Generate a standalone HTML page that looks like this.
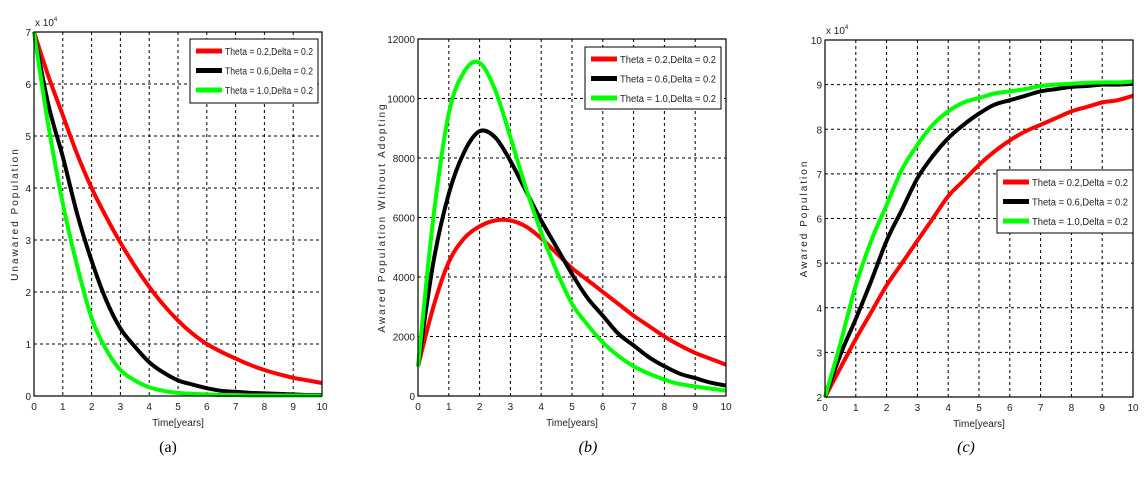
<!DOCTYPE html>
<html><head><meta charset="utf-8"><style>
body{margin:0;background:#fff;width:1147px;height:494px;overflow:hidden}
svg text{font-family:"Liberation Sans",sans-serif;font-size:10px;fill:#222}
.cap{font-family:"Liberation Serif",serif;font-size:16px;fill:#000}
</style></head><body>
<svg id="s" width="1147" height="494"></svg>
<script>
const times=[0,0.5,1,1.5,2,2.5,3,3.5,4,4.5,5,5.5,6,6.5,7,7.5,8,8.5,9,9.5,10];
const xTicks=[0,1,2,3,4,5,6,7,8,9,10];
const legendLabels=["Theta = 0.2,Delta = 0.2","Theta = 0.6,Delta = 0.2","Theta = 1.0,Delta = 0.2"];
const aRed=[7,6.15,5.4,4.65,4.0,3.45,2.95,2.5,2.1,1.75,1.45,1.2,1.0,0.85,0.72,0.6,0.5,0.42,0.35,0.3,0.25];
const aBlack=[7,5.6,4.6,3.5,2.6,1.85,1.3,0.95,0.65,0.45,0.3,0.22,0.15,0.1,0.08,0.06,0.05,0.04,0.03,0.02,0.02];
const aGreen=[7,5.2,3.7,2.5,1.5,0.9,0.5,0.3,0.17,0.1,0.06,0.04,0.03,0.02,0.02,0.01,0.01,0.01,0.01,0.01,0.01];
const aTicks=[0,1,2,3,4,5,6,7];
const bRed=[1000,3000,4500,5300,5700,5900,5900,5700,5300,4800,4300,3900,3500,3100,2700,2350,2000,1700,1450,1250,1050];
const bBlack=[1000,4500,6800,8200,8900,8700,7900,6900,5900,5000,4100,3300,2700,2100,1700,1300,1000,750,600,450,350];
const bGreen=[1000,6000,9500,10900,11200,10300,8700,7000,5500,4200,3100,2400,1800,1350,1000,750,550,400,320,250,180];
const bTicks=[0,2000,4000,6000,8000,10000,12000];
const cRed=[2,2.65,3.3,3.9,4.5,5.0,5.5,6.0,6.5,6.85,7.2,7.5,7.75,7.95,8.1,8.25,8.4,8.5,8.6,8.65,8.75];
const cBlack=[2,2.95,3.75,4.6,5.5,6.2,6.9,7.4,7.8,8.1,8.35,8.55,8.65,8.75,8.85,8.9,8.95,8.97,9.0,9.0,9.02];
const cGreen=[2,3.2,4.5,5.5,6.3,7.1,7.65,8.1,8.4,8.6,8.7,8.8,8.85,8.9,8.97,9.0,9.02,9.04,9.05,9.05,9.07];
const cTicks=[2,3,4,5,6,7,8,9,10];

const NS="http://www.w3.org/2000/svg",S=document.getElementById('s');
function mk(t,a,p){const e=document.createElementNS(NS,t);for(const k in a)e.setAttribute(k,a[k]);(p||S).appendChild(e);return e;}
const colors=["#ff0000","#000000","#00ff00"];
function smooth(pts){
  let d='M'+pts[0][0].toFixed(1)+','+pts[0][1].toFixed(1);
  for(let i=0;i<pts.length-1;i++){
    const p0=pts[Math.max(0,i-1)],p1=pts[i],p2=pts[i+1],p3=pts[Math.min(pts.length-1,i+2)];
    const c1=[p1[0]+(p2[0]-p0[0])/6,p1[1]+(p2[1]-p0[1])/6];
    const c2=[p2[0]-(p3[0]-p1[0])/6,p2[1]-(p3[1]-p1[1])/6];
    d+='C'+c1.map(v=>v.toFixed(1)).join(',')+' '+c2.map(v=>v.toFixed(1)).join(',')+' '+p2.map(v=>v.toFixed(1)).join(',');
  }
  return d;
}
function panel(id,L,R,T,B,ymin,ymax,ticks,series,ylab,exp,leg,capX,yOff){
  const g=mk('g',{});
  
  
  const X=v=>L+(v-0)/10*(R-L), Y=v=>B-(v-ymin)/(ymax-ymin)*(B-T);
  xTicks.forEach(t=>{
    if(t>0&&t<10){const l=mk('line',{x1:X(t),x2:X(t),y1:T,y2:B,stroke:'#000','stroke-width':1,'stroke-dasharray':'3,3'},g);}
    const tx=mk('text',{x:X(t),y:B+14,'text-anchor':'middle'},g);tx.textContent=t;
    
  });
  ticks.forEach(t=>{
    if(t>ymin&&t<ymax){const l=mk('line',{x1:L,x2:R,y1:Y(t),y2:Y(t),stroke:'#000','stroke-width':1,'stroke-dasharray':'3,3'},g);}
    const tx=mk('text',{x:L-3,y:Y(t)+4,'text-anchor':'end'},g);tx.textContent=t;
    
  });
  series.forEach((s,i)=>{
    const pts=s.map((v,j)=>[X(times[j]),Y(v)]);
    const p=mk('path',{d:smooth(pts),fill:'none',stroke:colors[i],'stroke-width':4,'stroke-linejoin':'round'},g);
    
    
  });
  const fr=mk('rect',{x:L,y:T,width:R-L,height:B-T,fill:'none',stroke:'#000','stroke-width':1.2},g);
  
  if(exp){const e=mk('text',{x:L+1,y:T-6},g);e.innerHTML='x 10<tspan dy="-5" font-size="6">4</tspan>';
    }
  const yl=mk('text',{transform:`translate(${L-yOff},${(T+B)/2}) rotate(-90)`,'text-anchor':'middle','letter-spacing':'2'},g);
  yl.textContent=ylab;
  const xl=mk('text',{x:(L+R)/2,y:B+30,'text-anchor':'middle'},g);xl.textContent='Time[years]';
  
  const lg=mk('g',{},g);
  mk('rect',{x:leg[0],y:leg[1],width:leg[2]-leg[0],height:leg[3]-leg[1],fill:'#fff',stroke:'#000','stroke-width':1},lg);
  legendLabels.forEach((t,i)=>{
    const yy=leg[1]+12+i*19.5;
    const ln=mk('line',{x1:leg[0]+6,x2:leg[0]+32,y1:yy,y2:yy,stroke:colors[i],'stroke-width':5},lg);
    
    const tx=mk('text',{x:leg[0]+35,y:yy+4,textLength:leg[2]-leg[0]-40,lengthAdjust:'spacingAndGlyphs'},lg);tx.textContent=t;
    
  });
  const c=mk('text',{x:capX,y:452,'text-anchor':'middle',class:'cap'},g);c.textContent='('+id+')';
  if(id!=='a')c.setAttribute('font-style','italic');
  
}
panel('a',34,322,32,396,0,7,aTicks,[aRed,aBlack,aGreen],'Unawared Population',true,[190,39,318,103],168,16);
panel('b',418,726,39,396,0,12000,bTicks,[bRed,bBlack,bGreen],'Awared Population Without Adopting',false,[585,47,721,109],588,33);
panel('c',825,1133,40,397,2,10,cTicks,[cRed,cBlack,cGreen],'Awared Population',true,[997,170,1133,233],966,18);
</script>
</body></html>
